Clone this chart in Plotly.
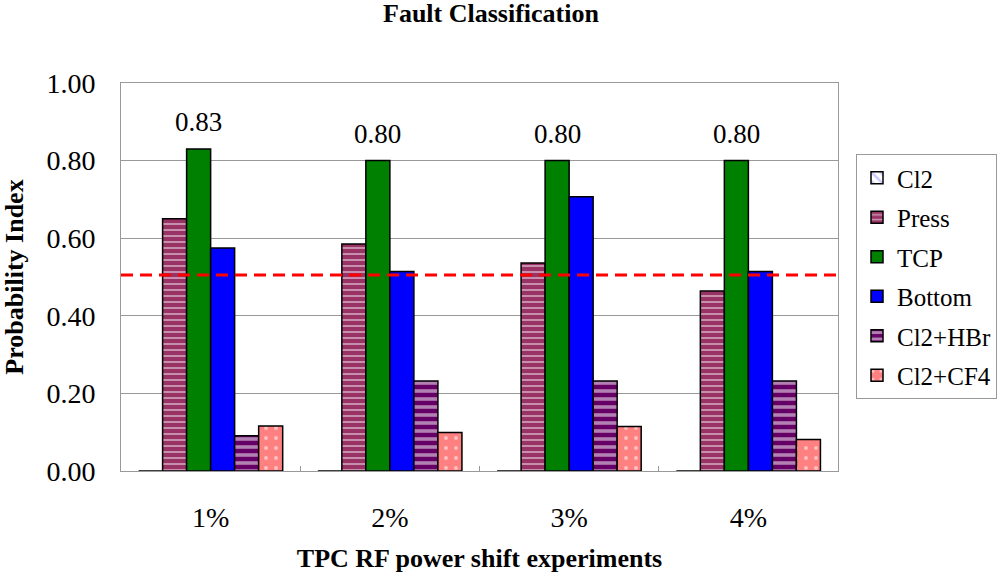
import plotly.graph_objects as go

categories = ["1%", "2%", "3%", "4%"]
series_names = ["Cl2", "Press", "TCP", "Bottom", "Cl2+HBr", "Cl2+CF4"]
cl2 = [0, 0, 0, 0]
press = [0.65, 0.585, 0.536, 0.464]
tcp = [0.83, 0.80, 0.80, 0.80]
bottom = [0.575, 0.514, 0.707, 0.514]
cl2_hbr = [0.091, 0.232, 0.232, 0.232]
cl2_cf4 = [0.116, 0.099, 0.115, 0.081]
tcp_labels = ["0.83", "0.80", "0.80", "0.80"]
threshold = 0.505
y_ticks = [0.0, 0.2, 0.4, 0.6, 0.8, 1.0]

FONT = "Liberation Serif"

styles = [
    dict(color="white", pattern=dict(shape="\\", bgcolor="white", fgcolor="#9999FF", size=8, solidity=0.4)),
    dict(color="#993366", pattern=dict(shape="-", bgcolor="#993366", fgcolor="white", size=6, solidity=0.3)),
    dict(color="#008000"),
    dict(color="#0000FF"),
    dict(color="#660066", pattern=dict(shape="-", bgcolor="#660066", fgcolor="white", size=8, solidity=0.45)),
    dict(color="#FF8080", pattern=dict(shape=".", bgcolor="#FF8080", fgcolor="white", size=10, solidity=0.12)),
]
values = [cl2, press, tcp, bottom, cl2_hbr, cl2_cf4]

fig = go.Figure()
for name, vals, st in zip(series_names, values, styles):
    marker = dict(color=st["color"], line=dict(color="black", width=1.5))
    if "pattern" in st:
        marker["pattern"] = st["pattern"]
    fig.add_trace(go.Bar(x=categories, y=vals, name=name, marker=marker, legendgroup=name))

for c, v, t in zip(categories, tcp, tcp_labels):
    fig.add_annotation(x=c, y=v, text=t, showarrow=False, xref="x", yref="y",
                       yanchor="bottom", yshift=10, xshift=-12,
                       font=dict(family=FONT, size=27, color="black"))

fig.add_shape(type="line", xref="paper", x0=0, x1=1, yref="y", y0=threshold, y1=threshold,
              line=dict(color="#FF0000", width=3, dash="12px,7px"))

fig.update_layout(
    width=1000, height=577,
    margin=dict(l=121, r=162, t=83, b=106, autoexpand=False),
    paper_bgcolor="white", plot_bgcolor="white",
    barmode="group", bargap=0.196, bargroupgap=0,
    font=dict(family=FONT, color="black"),
    title=dict(text="<b>Fault Classification</b>", x=0.491, xanchor="center",
               y=1 - 13 / 577, yanchor="middle",
               font=dict(family=FONT, size=26, color="black")),
    showlegend=True,
    legend=dict(xref="container", yref="container", x=856 / 1000, xanchor="left",
                y=1 - 154 / 577, yanchor="top",
                bordercolor="#999999", borderwidth=1, bgcolor="white",
                font=dict(family=FONT, size=25, color="black"),
                tracegroupgap=4, traceorder="grouped"),
)
fig.update_xaxes(
    type="category", showline=True, linecolor="#999999", linewidth=1, mirror=True,
    ticks="inside", tickson="boundaries", ticklen=5, tickcolor="#999999",
    tickfont=dict(family=FONT, size=28, color="black"), ticklabelstandoff=21,
    automargin=False,
    title=dict(text="<b>TPC RF power shift experiments</b>", font=dict(family=FONT, size=26, color="black"), standoff=17),
)
fig.update_yaxes(
    range=[0, 1.0], tickvals=y_ticks, tickformat=".2f",
    showgrid=True, gridcolor="#999999", gridwidth=1,
    showline=True, linecolor="#999999", linewidth=1, mirror=True,
    ticks="", tickfont=dict(family=FONT, size=28, color="black"), ticklabelstandoff=19,
    automargin=False,
    title=dict(text="<b>Probability Index</b>", font=dict(family=FONT, size=26, color="black"), standoff=18),
    zeroline=False,
)

fig.write_html("out.html", config={"displayModeBar": False},
               post_script="document.body.style.margin='0';")
